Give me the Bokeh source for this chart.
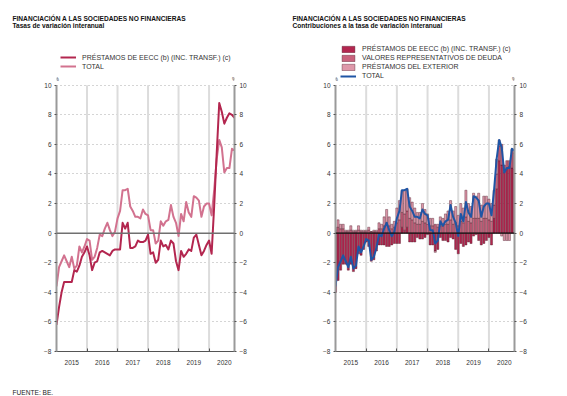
from bokeh.plotting import figure
from bokeh.models import Range1d, LinearAxis, FixedTicker, Span, Label, Legend, LegendItem
from bokeh.layouts import row, column
from bokeh.embed import file_html
from bokeh.resources import INLINE

# ---------------- data (monthly, Jan 2015 .. Nov 2020) ----------------
months = list(range(71))
year_labels = ["2015", "2016", "2017", "2018", "2019", "2020"]
year_centers = [6, 18, 30, 42, 54, 66]
year_bounds = [12, 24, 36, 48, 60]
y_ticks = [-8, -6, -4, -2, 0, 2, 4, 6, 8, 10]

prestamos = [-6.2, -5.0, -4.0, -3.3, -3.3, -3.3, -3.3, -2.5, -2.6, -2.2,
             -1.6, -1.3, -0.9, -1.5, -2.5, -2.0, -1.9, -1.3, -1.2, -1.3,
             -1.4, -1.5, -1.2, -1.1, -1.1, -1.1, 0.7, 0.3, 0.7, -1.0,
             -1.0, -0.9, -0.5, -0.6, -0.6, -0.5, -0.1, -1.4, -1.3, -2.0,
             -1.8, -0.5, -0.9, -0.8, -1.1, -0.5, -0.7, -1.9, -2.5, -1.2,
             -1.6, -1.4, -1.1, -1.2, -0.3, -0.1, -0.8, -1.5, -1.2, -0.8,
             -0.5, -1.4, 1.8, 5.4, 8.8, 8.2, 7.4, 7.8, 8.1, 8.0, 7.8]

total = [-3.6, -2.3, -1.9, -1.5, -1.9, -2.3, -1.6, -2.4, -2.2, -0.9,
         -1.3, -0.9, -0.4, -0.5, -1.8, -1.6, -1.0, -0.1, -0.2, 0.3,
         0.7, 0.2, -0.2, 0.1, 1.0, 1.5, 2.9, 2.9, 3.0, 1.8,
         1.5, 1.1, 1.1, 1.0, 1.6, 1.3, 1.2, 0.2, 0.2, -0.7,
         -0.5, 0.8, 0.5, 0.8, 0.9, 1.9, 1.1, 0.7, -0.2, 1.3,
         0.8, 2.1, 1.4, 1.1, 2.5, 2.4, 2.2, 1.1, 1.8, 2.0,
         2.0, 1.2, 2.9, 5.0, 6.3, 5.8, 4.1, 4.4, 4.4, 5.7, 5.6]

contrib_eecc = [-4.0, -3.2, -2.5, -2.1, -2.1, -2.5, -2.1, -2.6, -2.4, -1.4,
                -1.5, -1.1, -0.6, -0.9, -1.9, -1.8, -1.2, -0.8, -0.8, -0.8,
                -0.9, -0.9, -0.8, -0.7, -0.7, -0.7, 0.4, 0.2, 0.4, -0.6,
                -0.6, -0.6, -0.3, -0.4, -0.4, -0.3, -0.1, -0.8, -0.8, -1.2,
                -1.1, -0.3, -0.5, -0.5, -0.6, -0.3, -0.4, -1.1, -1.4, -0.7,
                -0.9, -0.8, -0.6, -0.7, -0.2, -0.1, -0.5, -0.8, -0.7, -0.5,
                -0.3, -0.8, 1.0, 3.0, 4.9, 4.6, 4.1, 4.3, 4.5, 4.4, 4.3]

contrib_valores = [0.2, 0.4, 0.3, 0.3, 0.1, 0.1, 0.2, 0.1, 0.1, 0.2,
                   0.1, 0.1, 0.1, 0.2, 0.1, 0.1, 0.1, 0.3, 0.3, 0.5,
                   0.7, 0.5, 0.3, 0.4, 0.7, 0.9, 1.0, 1.1, 1.1, 1.0,
                   0.9, 0.7, 0.6, 0.6, 0.8, 0.7, 0.6, 0.5, 0.5, 0.6,
                   0.4, 0.5, 0.5, 0.6, 0.6, 0.9, 0.6, 0.7, 0.5, 0.8,
                   0.7, 1.1, 0.8, 0.7, 1.0, 1.0, 1.0, 0.8, 1.0, 1.0,
                   0.9, 0.8, 0.9, 1.0, 1.0, 1.4, 0.5, 0.6, 0.4, 1.2, 1.1]

contrib_exterior = [0.2, 0.5, 0.3, 0.3, 0.1, 0.1, 0.3, 0.1, 0.1, 0.3,
                    0.1, 0.1, 0.1, 0.2, 0.0, 0.1, 0.1, 0.4, 0.3, 0.6,
                    0.9, 0.6, 0.3, 0.4, 1.0, 1.3, 1.5, 1.6, 1.5, 1.4,
                    1.2, 1.0, 0.8, 0.8, 1.2, 0.9, 0.7, 0.5, 0.5, -0.1,
                    0.2, 0.6, 0.5, 0.7, 0.9, 1.3, 0.9, 1.1, 0.7, 1.2,
                    1.0, 1.8, 1.2, 1.1, 1.7, 1.5, 1.7, 1.1, 1.5, 1.5,
                    1.4, 1.2, 1.0, 1.0, 0.4, -0.2, -0.5, -0.5, -0.5, 0.1, 0.2]

FONT = "Liberation Sans"
C_DARK = "#B3264F"
C_MED = "#C9627D"
C_LIGHT = "#DE98AA"
C_TOTAL_L = "#D2728F"
C_BLUE = "#1F55A5"

Y_TOP = 13.02  # frame extends above the 10 line to hold the legend


def text_fig(width, height):
    f = figure(width=width, height=height, x_range=Range1d(0, width), y_range=Range1d(0, height),
               output_backend="svg", toolbar_location=None, min_border=0,
               outline_line_color=None, x_axis_location=None, y_axis_location=None)
    f.grid.visible = False
    return f


def base_fig(width, bl, br):
    p = figure(width=width, height=336, x_range=Range1d(0, 70), y_range=Range1d(-8, Y_TOP),
               output_backend="svg", toolbar_location=None,
               min_border_left=bl, min_border_right=br, min_border_top=4, min_border_bottom=21,
               outline_line_color=None, background_fill_color="white", border_fill_color="white")
    xa = p.xaxis[0]
    xa.ticker = FixedTicker(ticks=year_centers, minor_ticks=year_bounds)
    xa.major_label_overrides = {c: l for c, l in zip(year_centers, year_labels)}
    xa.major_tick_line_color = None
    xa.minor_tick_in = 3
    xa.minor_tick_out = 0
    xa.minor_tick_line_color = "#555555"
    xa.axis_line_color = "#555555"
    xa.axis_line_width = 1
    xa.major_label_standoff = 2
    xa.major_label_text_font = FONT
    xa.major_label_text_font_size = "6.5px"
    xa.major_label_text_color = "#333333"
    ya = p.yaxis[0]
    ra = LinearAxis()
    p.add_layout(ra, "right")
    for ax in (ya, ra):
        ax.ticker = FixedTicker(ticks=y_ticks)
        ax.bounds = (min(y_ticks), max(y_ticks))
        ax.axis_line_color = "#9A9A9A"
        ax.axis_line_width = 2
        ax.major_tick_in = 0
        ax.major_tick_out = 2
        ax.major_tick_line_color = "#555555"
        ax.minor_tick_line_color = None
        ax.major_label_standoff = 3
        ax.major_label_text_font = FONT
        ax.major_label_text_font_size = "6.5px"
        ax.major_label_text_color = "#333333"
    p.xgrid.visible = False
    # year separators (vertical, from bottom to top of the value scale)
    p.segment(x0=year_bounds, y0=[min(y_ticks)] * len(year_bounds), x1=year_bounds,
              y1=[max(y_ticks)] * len(year_bounds), line_color="#DCDCDC", line_width=2)
    p.ygrid.ticker = FixedTicker(ticks=[t for t in y_ticks if t not in (0, -8)])
    p.ygrid.grid_line_color = "#AAAAAA"
    p.ygrid.grid_line_dash = "1 3"
    p.ygrid.grid_line_width = 1
    for xv in (0, 70):
        p.add_layout(Label(x=xv, y=max(y_ticks), y_offset=3, text="%", text_font=FONT, text_font_size="5.5px",
                           text_align="center", text_baseline="bottom", text_color="#333333"))
    return p


# ---------------- header ----------------
hdr = text_fig(567, 36)
for x0, sub in ((12, "Tasas de variación interanual"), (292, "Contribuciones a la tasa de variación interanual")):
    hdr.add_layout(Label(x=x0, y=36 - 18.3, text="FINANCIACIÓN A LAS SOCIEDADES NO FINANCIERAS",
                         text_font=FONT, text_font_style="bold", text_font_size="6.6px",
                         text_baseline="middle", text_color="#111111"))
    hdr.add_layout(Label(x=x0, y=36 - 25.3, text=sub,
                         text_font=FONT, text_font_style="bold", text_font_size="6.6px",
                         text_baseline="middle", text_color="#111111"))

# ---------------- left chart ----------------
p1 = base_fig(292, 56, 58)
p1.add_layout(Span(location=0, dimension="width", line_color="#707070", line_width=1.5))
r_tot = p1.line(months, total, line_color=C_TOTAL_L, line_width=2, line_join="round")
r_pre = p1.line(months, prestamos, line_color=C_DARK, line_width=2, line_join="round")
leg1 = Legend(items=[LegendItem(label="PRÉSTAMOS DE EECC (b) (INC. TRANSF.) (c)", renderers=[r_pre]),
                     LegendItem(label="TOTAL", renderers=[r_tot])],
              location=(4, 280.8))
p1.add_layout(leg1)

# ---------------- right chart ----------------
p2 = base_fig(275, 43, 53)
series = [contrib_eecc, contrib_valores, contrib_exterior]
colors = [C_DARK, C_MED, C_LIGHT]
pos_base = [0.0] * len(months)
neg_base = [0.0] * len(months)
bar_renderers = []
for vals, col in zip(series, colors):
    tops, bottoms = [], []
    for i, v in enumerate(vals):
        if v >= 0:
            bottoms.append(pos_base[i]); tops.append(pos_base[i] + v); pos_base[i] += v
        else:
            tops.append(neg_base[i]); bottoms.append(neg_base[i] + v); neg_base[i] += v
    r = p2.vbar(x=months, width=0.82, top=tops, bottom=bottoms, fill_color=col,
                line_color="#4A1626", line_width=0.4)
    bar_renderers.append(r)
p2.add_layout(Span(location=0, dimension="width", line_color="#111111", line_width=1.2))
r_blue = p2.line(months, total, line_color=C_BLUE, line_width=2, line_join="round")
leg2 = Legend(items=[LegendItem(label="PRÉSTAMOS DE EECC (b) (INC. TRANSF.) (c)", renderers=[bar_renderers[0]]),
                     LegendItem(label="VALORES REPRESENTATIVOS DE DEUDA", renderers=[bar_renderers[1]]),
                     LegendItem(label="PRÉSTAMOS DEL EXTERIOR", renderers=[bar_renderers[2]]),
                     LegendItem(label="TOTAL", renderers=[r_blue])],
              location=(5, 271.2))
p2.add_layout(leg2)

for lg in (leg1, leg2):
    lg.label_text_font = FONT
    lg.label_text_font_size = "7px"
    lg.label_text_color = "#333333"
    lg.glyph_width = 16
    lg.glyph_height = 8
    lg.label_height = 8
    lg.spacing = 1
    lg.padding = 0
    lg.margin = 0
    lg.label_standoff = 6
    lg.background_fill_alpha = 0
    lg.border_line_alpha = 0

# ---------------- footer ----------------
ftr = text_fig(567, 24)
ftr.add_layout(Label(x=12, y=24 - 19.7, text="FUENTE: BE.", text_font=FONT, text_font_size="6.6px",
                     text_baseline="middle", text_color="#222222"))

layout = column(hdr, row(p1, p2), ftr)
open("out.html", "w").write(file_html(layout, INLINE))
